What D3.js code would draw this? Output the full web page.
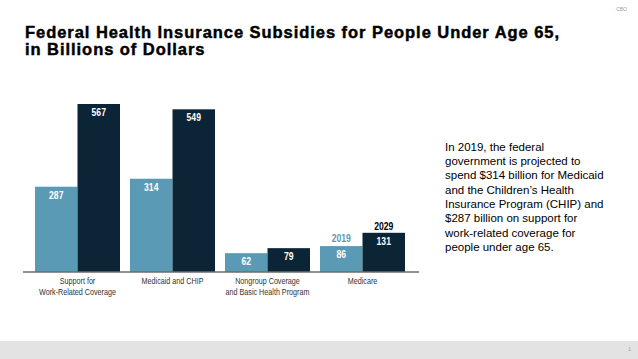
<!DOCTYPE html>
<html><head><meta charset="utf-8">
<script src="https://cdn.jsdelivr.net/npm/d3@7"></script>
<style>
body{margin:0;padding:0;background:#fff;}
svg{display:block;}
</style></head>
<body>
<svg id="chart" width="638" height="359"></svg>
<script>
const categories = ["Support for\nWork-Related Coverage", "Medicaid and CHIP", "Nongroup Coverage\nand Basic Health Program", "Medicare"];
const years = ["2019", "2029"];
const values2019 = [287, 314, 62, 86];
const values2029 = [567, 549, 79, 131];
const colors = {"2019": "#5b9ab4", "2029": "#0b2436"};
const noteLines = ["In 2019, the federal", "government is projected to", "spend $314 billion for Medicaid", "and the Children\u2019s Health", "Insurance Program (CHIP) and", "$287 billion on support for", "work-related coverage for", "people under age 65."];

const svg = d3.select("#chart");
const narrow = "'Liberation Sans','DejaVu Sans',sans-serif";
const sans = "'Liberation Sans',Arial,Helvetica,sans-serif";
const SX = 0.82;

// bottom band
svg.append("rect").attr("x",0).attr("y",341).attr("width",638).attr("height",18).attr("fill","#e3e3e3");
svg.append("text").attr("x",631).attr("y",351).attr("text-anchor","end").attr("font-family",sans).attr("font-size",5).attr("fill","#999").text("1");
svg.append("text").attr("x",627).attr("y",11).attr("text-anchor","end").attr("font-family",sans).attr("font-size",5).attr("fill","#999").text("CBO");

// title
const title = svg.append("text").attr("font-family",sans).attr("font-weight","bold").attr("font-size",16.5)
  .attr("letter-spacing",0.95).attr("fill","#000").attr("stroke","#000").attr("stroke-width",0.45);
title.append("tspan").attr("x",25).attr("y",37.5).text("Federal Health Insurance Subsidies for People Under Age 65,");
title.append("tspan").attr("x",25).attr("y",54.5).text("in Billions of Dollars");

// scales
const x0 = d3.scaleBand().domain(categories).range([35,405]).paddingInner(10/95).paddingOuter(0);
const x1 = d3.scaleBand().domain(years).range([0, x0.bandwidth()]);
const y = d3.scaleLinear().domain([0,567]).range([271.5,104]);

const data = categories.map((c,i)=>({cat:c, vals:[{year:"2019", v:values2019[i]},{year:"2029", v:values2029[i]}]}));

const g = svg.append("g");
const groups = g.selectAll("g.grp").data(data).join("g").attr("class","grp")
  .attr("transform", d=>`translate(${x0(d.cat)},0)`);
groups.selectAll("rect").data(d=>d.vals).join("rect")
  .attr("x", d=>x1(d.year)).attr("y", d=>y(d.v))
  .attr("width", x1.bandwidth()).attr("height", d=>y(0)-y(d.v))
  .attr("fill", d=>colors[d.year]);
groups.selectAll("text.val").data(d=>d.vals).join("text").attr("class","val")
  .attr("transform", d=>`translate(${x1(d.year)+x1.bandwidth()/2},${y(d.v)+12}) scale(${SX},1)`)
  .attr("text-anchor","middle").attr("font-family",narrow).attr("font-weight","bold")
  .attr("font-size",10.5).attr("fill","#fff").text(d=>d.v);

// axis
const axis = svg.append("g").attr("transform",`translate(0,${y(0)})`)
  .call(d3.axisBottom(x0).tickSize(0).tickFormat(""));
axis.select(".domain").attr("d","M23,0.5H419").attr("stroke","#222").attr("stroke-width",1);
svg.selectAll("text.cat").data(categories).join("text").attr("class","cat")
  .attr("transform", c=>`translate(${x0(c)+x0.bandwidth()/2},0) scale(0.8,1)`)
  .attr("font-family",narrow).attr("font-size",9).attr("fill","#333").attr("text-anchor","middle")
  .each(function(c){
    const lines = c.split("\n");
    const t = d3.select(this);
    lines.forEach((l,i)=>t.append("tspan").attr("x",0).attr("y",284.5+i*10.5).text(l));
  });

// legend labels above Medicare bars
const last = categories[3];
svg.append("text")
  .attr("transform",`translate(${x0(last)+x1("2019")+x1.bandwidth()/2},${y(values2019[3])-4}) scale(${SX},1)`)
  .attr("text-anchor","middle").attr("font-family",narrow).attr("font-weight","bold").attr("font-size",10.5)
  .attr("fill",colors["2019"]).text("2019");
svg.append("text")
  .attr("transform",`translate(${x0(last)+x1("2029")+x1.bandwidth()/2},${y(values2029[3])-3}) scale(${SX},1)`)
  .attr("text-anchor","middle").attr("font-family",narrow).attr("font-weight","bold").attr("font-size",10.5)
  .attr("fill","#000").text("2029");

// note
const note = svg.append("text").attr("font-family",sans).attr("font-size",11.5).attr("fill","#000");
noteLines.forEach((l,i)=>note.append("tspan").attr("x",445).attr("y",150.7+i*14.3).text(l));
</script>
</body></html>
